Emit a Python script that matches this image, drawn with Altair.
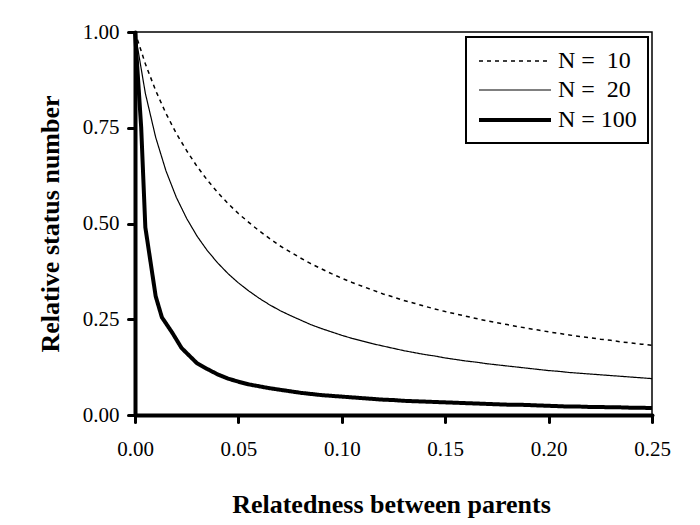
import altair as alt
import pandas as pd

relatedness = [0.000, 0.005, 0.010, 0.015, 0.020, 0.025, 0.030, 0.035, 0.040, 0.045,
               0.050, 0.055, 0.060, 0.065, 0.070, 0.075, 0.080, 0.085, 0.090, 0.095,
               0.100, 0.105, 0.110, 0.115, 0.120, 0.125, 0.130, 0.135, 0.140, 0.145,
               0.150, 0.155, 0.160, 0.165, 0.170, 0.175, 0.180, 0.185, 0.190, 0.195,
               0.200, 0.205, 0.210, 0.215, 0.220, 0.225, 0.230, 0.235, 0.240, 0.245,
               0.250]

n10 = [1.000, 0.917, 0.847, 0.787, 0.735, 0.690, 0.649, 0.613, 0.581, 0.552,
       0.526, 0.503, 0.481, 0.461, 0.442, 0.426, 0.410, 0.395, 0.382, 0.369,
       0.357, 0.346, 0.336, 0.326, 0.316, 0.308, 0.299, 0.292, 0.284, 0.277,
       0.270, 0.264, 0.258, 0.252, 0.246, 0.241, 0.236, 0.231, 0.226, 0.222,
       0.217, 0.213, 0.209, 0.205, 0.202, 0.198, 0.195, 0.191, 0.188, 0.185,
       0.182]

n20 = [1.000, 0.840, 0.725, 0.637, 0.568, 0.513, 0.467, 0.429, 0.397, 0.369,
       0.345, 0.324, 0.305, 0.288, 0.273, 0.260, 0.248, 0.236, 0.226, 0.217,
       0.208, 0.200, 0.193, 0.186, 0.180, 0.174, 0.168, 0.163, 0.158, 0.154,
       0.149, 0.145, 0.141, 0.138, 0.134, 0.131, 0.128, 0.125, 0.122, 0.119,
       0.116, 0.114, 0.111, 0.109, 0.107, 0.105, 0.103, 0.101, 0.099, 0.097,
       0.095]

relatedness_n100 = [0.000, 0.003, 0.005, 0.0075, 0.010, 0.013, 0.018, 0.0225, 0.030, 0.035,
                    0.040, 0.045, 0.050, 0.055, 0.060, 0.065, 0.070, 0.075, 0.080, 0.085,
                    0.090, 0.095, 0.100, 0.105, 0.110, 0.115, 0.120, 0.125, 0.130, 0.135,
                    0.140, 0.145, 0.150, 0.155, 0.160, 0.165, 0.170, 0.175, 0.180, 0.185,
                    0.190, 0.195, 0.200, 0.205, 0.210, 0.215, 0.220, 0.225, 0.230, 0.235,
                    0.240, 0.245, 0.250]

n100 = [1.000, 0.750, 0.490, 0.400, 0.310, 0.255, 0.215, 0.175, 0.135, 0.120,
        0.106, 0.095, 0.087, 0.080, 0.075, 0.070, 0.066, 0.062, 0.058, 0.055,
        0.052, 0.050, 0.048, 0.046, 0.044, 0.042, 0.040, 0.039, 0.037, 0.036,
        0.035, 0.034, 0.033, 0.032, 0.031, 0.030, 0.029, 0.028, 0.027, 0.027,
        0.026, 0.025, 0.024, 0.023, 0.022, 0.022, 0.021, 0.021, 0.020, 0.020,
        0.019, 0.019, 0.018]

series_labels = ["N = \u00a010", "N = \u00a020", "N = 100"]
x_ticks = [0.00, 0.05, 0.10, 0.15, 0.20, 0.25]
y_ticks = [0.00, 0.25, 0.50, 0.75, 1.00]

rows = []
for lab, xs, vals in zip(series_labels,
                         [relatedness, relatedness, relatedness_n100],
                         [n10, n20, n100]):
    for r, v in zip(xs, vals):
        rows.append({"r": r, "v": v, "series": lab})
df = pd.DataFrame(rows)

FONT = "Liberation Serif"

legend = alt.Legend(
    title=None,
    orient="none",
    legendX=331,
    legendY=5,
    symbolType="M-3,0H3",
    symbolSize=576,
    symbolOffset=24,
    symbolStrokeColor="black",
    labelFont=FONT,
    labelFontSize=24,
    labelColor="black",
    labelOffset=29,
    strokeColor="black",
    padding=11,
    rowPadding=4,
    fillColor="white",
)

chart = alt.Chart(df).mark_line(color="black", strokeCap="butt", strokeJoin="round").encode(
    x=alt.X("r:Q",
            scale=alt.Scale(domain=[0, 0.25], nice=False, zero=False),
            axis=alt.Axis(values=x_ticks, format=".2f", title="Relatedness between parents",
                          labelFlush=False, labelPadding=16,
                          titleX=256, titleY=89, titleBaseline="middle", titleAlign="center")),
    y=alt.Y("v:Q",
            scale=alt.Scale(domain=[0, 1], nice=False),
            axis=alt.Axis(values=y_ticks, format=".2f", title="Relative status number",
                          labelFlush=False, labelPadding=9,
                          titleX=-85, titleY=191.5, titleAngle=270,
                          titleBaseline="middle", titleAlign="center")),
    strokeDash=alt.StrokeDash("series:N",
                              scale=alt.Scale(type="ordinal", domain=series_labels,
                                              range=[[4, 4], [1, 0], [1, 0]]),
                              legend=legend),
    strokeWidth=alt.StrokeWidth("series:N",
                                scale=alt.Scale(type="ordinal", domain=series_labels,
                                                range=[1.5, 1.2, 4]),
                                legend=legend),
    detail="series:N",
).properties(
    width=517,
    height=383,
    padding={"left": 127, "top": 24, "right": 30, "bottom": 110},
    autosize=alt.AutoSizeParams(type="none"),
).configure_view(
    stroke="black",
    strokeWidth=1.5,
).configure_legend(
    strokeWidth=2,
).configure_axis(
    grid=False,
    domainColor="black",
    domainWidth=4,
    domainCap="round",
    tickColor="black",
    tickWidth=3,
    tickSize=7,
    tickCap="round",
    labelFont=FONT,
    labelFontSize=21,
    labelColor="black",
    titleFont=FONT,
    titleFontSize=26,
    titleFontWeight="bold",
    titleColor="black",
)

chart.save("out.html", embed_options={"renderer": "svg", "actions": False})
